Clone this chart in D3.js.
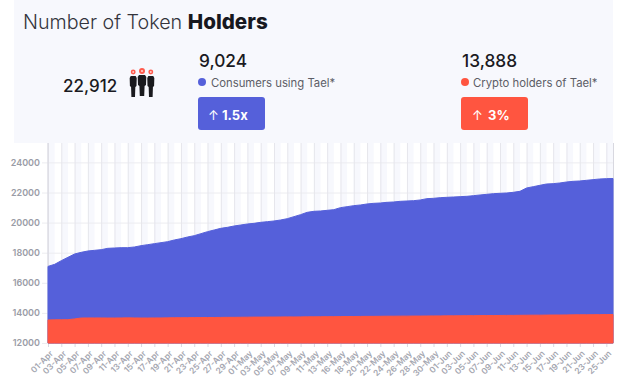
<!DOCTYPE html>
<html><head><meta charset="utf-8">
<script src="https://cdn.jsdelivr.net/npm/d3@7/dist/d3.min.js"></script>
<style>
html,body{margin:0;padding:0;background:#fff}
svg{display:block}
text{font-family:Inter,"Open Sans",sans-serif}
</style></head><body><div id="c"></div>
<script>
const dates=["01-Apr","02-Apr","03-Apr","04-Apr","05-Apr","06-Apr","07-Apr","08-Apr","09-Apr","10-Apr","11-Apr","12-Apr","13-Apr","14-Apr","15-Apr","16-Apr","17-Apr","18-Apr","19-Apr","20-Apr","21-Apr","22-Apr","23-Apr","24-Apr","25-Apr","26-Apr","27-Apr","28-Apr","29-Apr","30-Apr",
"01-May","02-May","03-May","04-May","05-May","06-May","07-May","08-May","09-May","10-May","11-May","12-May","13-May","14-May","16-May","17-May","18-May","19-May","20-May","21-May","22-May","23-May","24-May","25-May","26-May","27-May","28-May","29-May","30-May","31-May",
"01-Jun","02-Jun","03-Jun","04-Jun","05-Jun","06-Jun","07-Jun","08-Jun","09-Jun","10-Jun","11-Jun","12-Jun","13-Jun","14-Jun","15-Jun","16-Jun","17-Jun","18-Jun","19-Jun","20-Jun","21-Jun","22-Jun","23-Jun","24-Jun","25-Jun","26-Jun"];
const totalHolders=[17090,17227,17471,17693,17914,18025,18113,18158,18202,18291,18313,18335,18335,18379,18468,18534,18601,18667,18733,18844,18933,19044,19132,19265,19398,19509,19620,19686,19775,19841,19908,19952,20018,20062,20107,20173,20262,20395,20528,20683,20750,20771,20816,20860,20993,21059,21126,21170,21237,21281,21303,21348,21370,21414,21436,21458,21502,21591,21613,21657,21680,21702,21724,21746,21790,21835,21879,21923,21945,21968,22012,22078,22300,22388,22477,22565,22588,22632,22698,22743,22765,22809,22854,22898,22920,22930];
const cryptoHolders=[13530,13540,13545,13550,13600,13660,13665,13665,13665,13660,13660,13665,13670,13665,13660,13660,13665,13665,13670,13680,13680,13685,13690,13690,13695,13695,13700,13705,13705,13710,13715,13720,13720,13725,13725,13730,13735,13730,13735,13740,13740,13745,13750,13750,13755,13760,13760,13765,13770,13770,13775,13780,13780,13785,13785,13790,13790,13795,13800,13800,13805,13805,13810,13815,13815,13820,13825,13825,13830,13835,13835,13840,13845,13850,13850,13855,13860,13860,13865,13870,13875,13875,13880,13885,13890,13895];
const yTicks=[12000,14000,16000,18000,20000,22000,24000];
const titleLight="Number of Token ",titleBold="Holders";
const totalLabel="22,912";
const seriesLabels=["Consumers using Tael*","Crypto holders of Tael*"];
const seriesValues=["9,024","13,888"];
const seriesChange=["1.5x","3%"];
const colors=["#5560da","#ff5540"];
const W=624,H=383;
const svg=d3.select("#c").append("svg").attr("width",W).attr("height",H);
svg.append("rect").attr("x",14).attr("y",0).attr("width",599).attr("height",143).attr("fill","#f7f8fd");
const x=d3.scalePoint().domain(dates).range([48,613]);
const y=d3.scaleLinear().domain([12000,24000]).range([343,162.4]);
const step=x.step();
const tickDates=dates.filter((d,i)=>i%2===0);
svg.append("g").selectAll("rect").data(tickDates).join("rect")
 .attr("x",d=>x(d)).attr("y",143).attr("height",200)
 .attr("width",d=>Math.min(step,613-x(d))).attr("fill","#f7f8fd");
const gy=svg.append("g").attr("transform","translate(48,0)")
 .call(d3.axisLeft(y).tickValues(yTicks).tickSize(-565).tickPadding(8).tickFormat(d3.format("d")));
gy.select(".domain").remove();
gy.selectAll("line").attr("stroke","#ececf0").attr("x1",-6);
gy.selectAll("text").attr("fill","#9a9ca6").attr("font-size",9).attr("font-weight",600).attr("x",-8);
const gx=svg.append("g").attr("transform","translate(0,343)")
 .call(d3.axisBottom(x).tickValues(tickDates).tickSize(-200).tickPadding(6));
gx.select(".domain").attr("stroke","#d8d8e0");
gx.selectAll("line").attr("stroke","#e6e6ec").attr("y2",-200);
gx.selectAll("g.tick").append("line").attr("y1",0).attr("y2",4).attr("stroke","#d8d8e0");
gx.selectAll("text").attr("fill","#a4a6b0").attr("font-size",8.4).attr("font-weight",600)
 .attr("text-anchor","end").attr("transform","translate(3,9) rotate(-45)").attr("y",0).attr("dy","0.35em").attr("x",0);
svg.append("line").attr("x1",48).attr("x2",48).attr("y1",143).attr("y2",343).attr("stroke","#dcdce4").attr("stroke-width",1.4);
const area=(arr)=>d3.area().x((d,i)=>x(dates[i])).y0(y(12000)).y1(d=>y(d))(arr);
svg.append("path").attr("d",area(totalHolders)).attr("fill",colors[0]).attr("stroke",colors[0]).attr("stroke-width",1);
svg.append("path").attr("d",area(cryptoHolders)).attr("fill",colors[1]).attr("stroke",colors[1]).attr("stroke-width",1);
const t=svg.append("text").attr("x",23).attr("y",29).attr("fill","#33343c");
t.append("tspan").attr("font-weight",300).attr("font-size",19.7).text(titleLight);
t.append("tspan").attr("font-weight",800).attr("font-size",20.6).attr("fill","#17181f").text(titleBold);
svg.append("text").attr("x",63).attr("y",92).attr("font-size",17).attr("font-weight",500).attr("fill","#1a1a22").text(totalLabel);
const icon=svg.append("g");
[[133.2,72,.82],[142,71,1],[150.8,72,.82]].forEach(([cx,cy,s])=>{
 icon.append("path").attr("fill","#1a1a1e").attr("d",
  d3.line().curve(d3.curveLinearClosed)([[cx-3*s,cy+4],[cx+3*s,cy+4],[cx+4.3*s,cy+6],[cx+4*s,cy+14],[cx+2.6*s,cy+15],[cx+2.2*s,cy+25],[cx-2.2*s,cy+25],[cx-2.6*s,cy+15],[cx-4*s,cy+14],[cx-4.3*s,cy+6]]));
 icon.append("circle").attr("cx",cx).attr("cy",cy).attr("r",3*s).attr("fill","#ff5a4d");
 icon.append("circle").attr("cx",cx).attr("cy",cy).attr("r",1.1*s).attr("fill","#ffd0cc");
});
const xs=[198,461];
const arrowDx=[10,11],valDx=[24,27];
seriesLabels.forEach((lab,i)=>{
 const g=svg.append("g").attr("transform",`translate(${xs[i]},0)`);
 g.append("text").attr("x",1).attr("y",67).attr("font-size",17.3).attr("font-weight",500).attr("fill","#1a1a22").text(seriesValues[i]);
 g.append("circle").attr("cx",4).attr("cy",82).attr("r",4).attr("fill",colors[i]);
 g.append("text").attr("x",[13,12][i]).attr("y",87).attr("font-size",11.3).attr("fill","#5c5d66").text(lab);
 g.append("rect").attr("x",0).attr("y",97).attr("width",67).attr("height",33).attr("rx",3).attr("fill",colors[i]);
 g.append("text").attr("x",arrowDx[i]).attr("y",120).attr("font-size",13).attr("font-weight",400).attr("fill","#fff").text("↑");
 g.append("text").attr("x",valDx[i]).attr("y",120).attr("font-size",13).attr("font-weight",700).attr("fill","#fff").text(seriesChange[i]);
});
</script></body></html>
